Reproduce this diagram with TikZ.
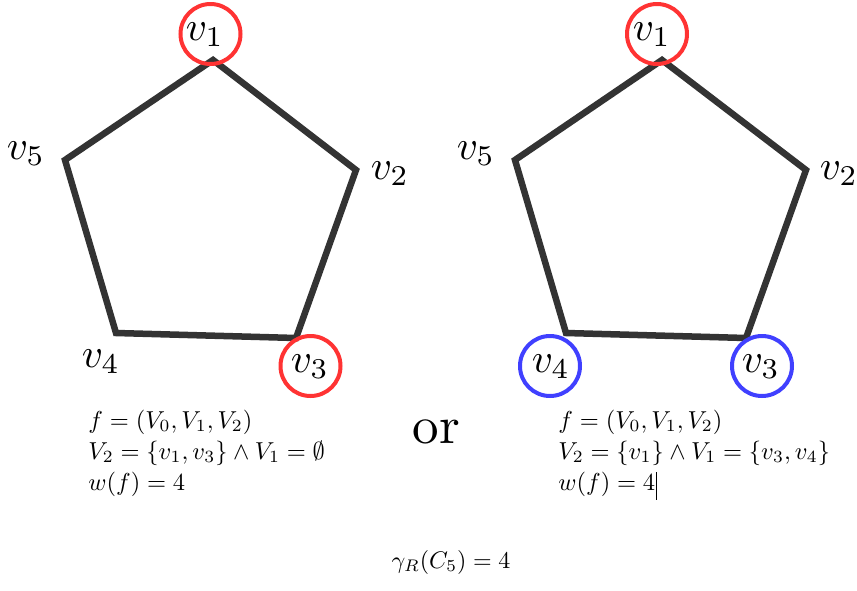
\documentclass[tikz,border=0pt]{standalone}
\usepackage{amssymb}
\begin{document}
\begin{tikzpicture}[x=1pt,y=-1pt,
  edge/.style={line width=6.5pt,draw=black!80,line join=miter},
  ring/.style={circle,line width=4pt,inner sep=0pt,minimum size=60pt},
  redc/.style={ring,draw=red!80!white},
  bluec/.style={ring,draw=blue!75!white},
  vlab/.style={inner sep=0pt,scale=4.1},
  formula/.style={anchor=base west,inner sep=0pt,scale=2.45},
]
\useasboundingbox (0,0) rectangle (857,590);
% left pentagon
\coordinate (a1) at (213,60);
\coordinate (a2) at (356,170);
\coordinate (a3) at (296,338);
\coordinate (a4) at (116,333);
\coordinate (a5) at (65,160);
\draw[edge] (a1) -- (a2) -- (a3) -- (a4) -- (a5) -- cycle;
% right pentagon
\coordinate (b1) at (662,60);
\coordinate (b2) at (806,170);
\coordinate (b3) at (746,338);
\coordinate (b4) at (566,333);
\coordinate (b5) at (515,160);
\draw[edge] (b1) -- (b2) -- (b3) -- (b4) -- (b5) -- cycle;
% circles
\node[redc] (ca1) at (210.5,34) {};
\node[redc] (ca3) at (310.5,366) {};
\node[redc] (cb1) at (657,34) {};
\node[bluec] (cb4) at (550,366) {};
\node[bluec] (cb3) at (762,366) {};
% labels
\node[vlab] (la1) at (205,35) {$v_1$};
\node[vlab] (la2) at (390,174) {$v_2$};
\node[vlab] (la3) at (310,367) {$v_3$};
\node[vlab] (la4) at (101,362) {$v_4$};
\node[vlab] (la5) at (26,154) {$v_5$};
\node[vlab] (lb1) at (652,35) {$v_1$};
\node[vlab] (lb2) at (839,174) {$v_2$};
\node[vlab] (lb3) at (761,367) {$v_3$};
\node[vlab] (lb4) at (551,367) {$v_4$};
\node[vlab] (lb5) at (476,154) {$v_5$};
% formulas
\node[formula] (fa1) at (88,428) {$f=(V_0,V_1,V_2)$};
\node[formula] (fa2) at (88,459) {$V_2=\{v_1,v_3\}\wedge V_1=\emptyset$};
\node[formula] (fa3) at (88,490) {$w(f)=4$};
\node[formula] (fb1) at (558,428) {$f=(V_0,V_1,V_2)$};
\node[formula] (fb2) at (558,459) {$V_2=\{v_1\}\wedge V_1=\{v_3,v_4\}$};
\node[formula] (fb3) at (558,490) {$w(f)=4$};
\coordinate (cur) at ([xshift=1pt]fb3.base east);
\draw[line width=1pt] ([yshift=18pt]cur) -- ([yshift=-10pt]cur);
\node[inner sep=0pt,scale=5.3] (or) at (436.5,432) {or};
\node[anchor=base,inner sep=0pt,scale=2.4] (gam) at (451,568) {$\gamma_R(C_5)=4$};
\end{tikzpicture}
\end{document}
